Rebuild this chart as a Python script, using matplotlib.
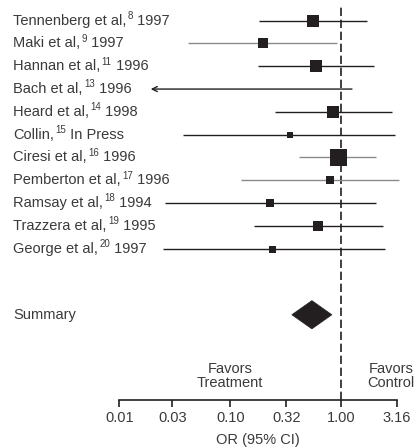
import matplotlib
matplotlib.use("Agg")
import matplotlib.pyplot as plt
from matplotlib.patches import Polygon
from matplotlib.transforms import blended_transform_factory, offset_copy
import numpy as np

plt.rcParams['font.family'] = ['Liberation Sans', 'DejaVu Sans']

# ---- data ----
authors = ["Tennenberg et al", "Maki et al", "Hannan et al", "Bach et al", "Heard et al",
           "Collin", "Ciresi et al", "Pemberton et al", "Ramsay et al", "Trazzera et al",
           "George et al"]
refs = ["8", "9", "11", "13", "14", "15", "16", "17", "18", "19", "20"]
years = ["1997", "1997", "1996", "1996", "1998", "In Press", "1996", "1996", "1994", "1995", "1997"]
or_est = [0.556, 0.198, 0.595, np.nan, 0.847, 0.342, 0.926, 0.796, 0.229, 0.621, 0.240]
ci_lo = [0.183, 0.0417, 0.176, 0.0192, 0.255, 0.0376, 0.42, 0.125, 0.0258, 0.164, 0.0249]
ci_hi = [1.71, 0.915, 1.99, 1.25, 2.87, 3.07, 2.06, 3.34, 2.06, 2.38, 2.46]
weights = [11.5, 9.7, 12, 0, 11.7, 6.7, 17, 8, 8, 10, 7]
line_gray = [False, True, False, False, False, False, True, True, False, False, False]
off_scale = [False, False, False, True, False, False, False, False, False, False, False]

summary_est = 0.544
summary_lo = 0.359
summary_hi = 0.824

ticks = [0.01, 0.03, 0.10, 0.32, 1.00, 3.16]
tick_labels = ["0.01", "0.03", "0.10", "0.32", "1.00", "3.16"]

# ---- figure ----
W, H = 419, 448
fig = plt.figure(figsize=(W / 100, H / 100), dpi=100)
ax = fig.add_axes([119.3 / W, 1 - 400 / H, (396.7 - 119.3) / W, (400 - 7) / H])

TXT = '#3a3a3a'
MARK = '#231f20'
GRAY = '#8a8a8a'
FS = 10.5
SUP_FS = 7

ax.set_xscale('log')
ax.set_xlim(0.01, 10 ** 0.5)
ax.set_ylim(16.64, -0.6)

n = len(authors)
rows = np.arange(n)
for i in range(n):
    col = GRAY if line_gray[i] else MARK
    if off_scale[i]:
        ax.annotate('', xy=(ci_lo[i], rows[i]), xytext=(ci_hi[i], rows[i]),
                    xycoords='data', textcoords='data', annotation_clip=False,
                    arrowprops=dict(arrowstyle='->', color=MARK, lw=1.0,
                                    shrinkA=0, shrinkB=0, mutation_scale=9))
    else:
        ax.plot([ci_lo[i], ci_hi[i]], [rows[i], rows[i]], color=col, lw=1.0,
                clip_on=False, solid_capstyle='butt')
    if not np.isnan(or_est[i]):
        ax.plot(or_est[i], rows[i], marker='s', ms=weights[i] * 0.72,
                color=MARK, mec=MARK, mew=0, zorder=3, clip_on=False)

# summary diamond
sy = 12.9
half_h = 0.62
diamond = Polygon([[summary_lo, sy], [summary_est, sy - half_h],
                   [summary_hi, sy], [summary_est, sy + half_h]],
                  closed=True, facecolor=MARK, edgecolor=MARK, lw=0.5, zorder=3)
ax.add_patch(diamond)

# null line
ax.axvline(1.0, color=MARK, lw=1.2, ls=(0, (5, 2.2)), zorder=1)

# labels built from pieces (main text, superscript, year)
trans = blended_transform_factory(fig.transFigure, ax.transData)
renderer = fig.canvas.get_renderer()
x0 = 13.0
for i in range(n):
    t1 = ax.text(x0 / W, rows[i], f"{authors[i]},", transform=trans, ha='left',
                 va='center', fontsize=FS, color=TXT)
    w1 = t1.get_window_extent(renderer).width
    xs = x0 + w1 + 1.5
    t2 = ax.text(xs / W, rows[i], refs[i],
                 transform=offset_copy(trans, fig=fig, x=0, y=3.4, units='points'),
                 ha='left', va='center', fontsize=SUP_FS, color=TXT)
    w2 = t2.get_window_extent(renderer).width
    xy = xs + w2
    ax.text(xy / W, rows[i], " " + years[i], transform=trans, ha='left',
            va='center', fontsize=FS, color=TXT)
ax.text(x0 / W, sy, "Summary", transform=trans, ha='left', va='center',
        fontsize=FS, color=TXT)

ax.text(0.10, 15.58, "Favors\nTreatment", ha='center', va='center', fontsize=FS,
        color=TXT, linespacing=1.0)
ax.text(2.83, 15.58, "Favors\nControl", ha='center', va='center', fontsize=FS,
        color=TXT, linespacing=1.0, clip_on=False)

# axes styling
for s in ['top', 'right', 'left']:
    ax.spines[s].set_visible(False)
ax.spines['bottom'].set_color(MARK)
ax.spines['bottom'].set_linewidth(1.2)
ax.set_yticks([])
ax.xaxis.set_minor_locator(matplotlib.ticker.NullLocator())
ax.set_xticks(ticks)
ax.set_xticklabels(tick_labels)
ax.tick_params(axis='x', direction='out', length=5, width=1.2, color=MARK,
               labelsize=FS, labelcolor=TXT, pad=3)
ax.set_xlabel("OR (95% CI)", fontsize=FS, color=TXT, labelpad=6)

fig.savefig('out.png', dpi=100)
